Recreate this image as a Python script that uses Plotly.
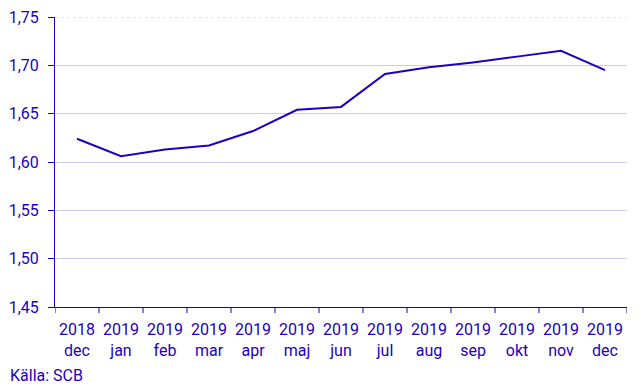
import plotly.graph_objects as go

years = ["2018", "2019", "2019", "2019", "2019", "2019", "2019", "2019", "2019", "2019", "2019", "2019", "2019"]
months = ["dec", "jan", "feb", "mar", "apr", "maj", "jun", "jul", "aug", "sep", "okt", "nov", "dec"]
values = [1.624, 1.606, 1.613, 1.617, 1.632, 1.654, 1.657, 1.691, 1.698, 1.703, 1.709, 1.715, 1.695]
y_ticks = [1.45, 1.50, 1.55, 1.60, 1.65, 1.70, 1.75]

labels = [f"{y}<br>{m}" for y, m in zip(years, months)]
cats = list(range(len(values)))

blue = "#1e00be"
fig = go.Figure()
fig.add_trace(go.Scatter(x=cats, y=values, mode="lines",
                         line=dict(color=blue, width=2), hoverinfo="skip"))

fig.update_layout(
    width=635, height=378,
    margin=dict(l=47, r=16, t=9, b=79),
    paper_bgcolor="white", plot_bgcolor="white",
    font=dict(family="Roboto", size=16, color=blue),
    separators=",.",
    showlegend=False,
    xaxis=dict(
        tickmode="array", tickvals=cats, ticktext=labels,
        range=[-0.5, len(values) - 0.5], automargin=False,
        showgrid=False, showline=True, linecolor=blue, linewidth=1,
        ticks="outside", ticklen=8, tickcolor="rgba(0,0,0,0)", zeroline=False,
    ),
    yaxis=dict(
        range=[1.45, 1.75], tickvals=y_ticks, tickformat=".2f", automargin=False,
        showgrid=True, gridcolor="#cdcaef", gridwidth=1,
        showline=True, linecolor=blue, linewidth=1,
        ticks="outside", ticklen=6, tickcolor=blue, zeroline=False,
        ticklabelstandoff=6, ticklabeloverflow="allow",
    ),
    annotations=[dict(text="Källa: SCB", xref="paper", yref="paper",
                      x=-47/572, y=-(367-299)/290, xanchor="left", yanchor="middle",
                      showarrow=False, font=dict(size=16, color=blue))],
)

# top gridline (lighter, dotted as in reference)
fig.add_shape(type="line", xref="paper", yref="y", x0=0, x1=1,
              y0=y_ticks[-1], y1=y_ticks[-1],
              line=dict(color="#cdcaef", width=1, dash="dot"), layer="below")

# tick marks at category boundaries
for b in range(len(values) + 1):
    fig.add_shape(type="line", xref="x", yref="paper",
                  x0=b - 0.5, x1=b - 0.5, y0=0, y1=-6/290,
                  line=dict(color=blue, width=1))

fig.write_html("out.html")
